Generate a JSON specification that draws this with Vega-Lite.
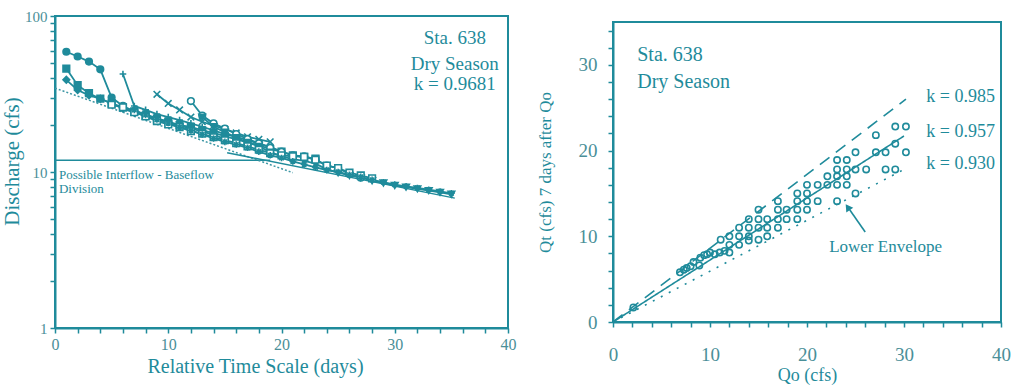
{
  "$schema": "https://vega.github.io/schema/vega-lite/v6.json",
  "background": "white",
  "padding": {"left": 0, "top": 8, "right": 5, "bottom": 0},
  "spacing": 105,
  "bounds": "flush",
  "center": true,
  "config": {
    "font": "Liberation Serif",
    "view": {"stroke": "#1f8b9b", "strokeWidth": 2},
    "axis": {
      "grid": false,
      "domainColor": "#1f8b9b",
      "domainWidth": 2,
      "tickColor": "#1f8b9b",
      "tickWidth": 1.5,
      "tickSize": 5,
      "labelColor": "#4a8f98",
      "titleColor": "#1f8b9b",
      "labelFont": "Liberation Serif",
      "titleFont": "Liberation Serif",
      "titleFontWeight": "normal"
    },
    "text": {"font": "Liberation Serif", "color": "#1f8b9b"}
  },
  "datasets": {
    "ser": [
      {"s":"A","x":1,"y":59},{"s":"A","x":2,"y":55},{"s":"A","x":3,"y":51},{"s":"A","x":4,"y":45.5},{"s":"A","x":5,"y":30},{"s":"A","x":6,"y":26.5},{"s":"A","x":7,"y":24.5},{"s":"A","x":8,"y":23.5},{"s":"A","x":9,"y":22},{"s":"A","x":10,"y":21},
      {"s":"B","x":1,"y":46},{"s":"B","x":2,"y":36},{"s":"B","x":3,"y":32},{"s":"B","x":4,"y":29.5},{"s":"B","x":5,"y":27.5},{"s":"B","x":6,"y":26},{"s":"B","x":7,"y":24.5},{"s":"B","x":8,"y":23},{"s":"B","x":9,"y":22},{"s":"B","x":10,"y":21},{"s":"B","x":11,"y":20},{"s":"B","x":12,"y":19.5},{"s":"B","x":13,"y":18.5},{"s":"B","x":14,"y":17.8},{"s":"B","x":15,"y":17},{"s":"B","x":16,"y":16.2},{"s":"B","x":17,"y":15.5},{"s":"B","x":18,"y":14.8},{"s":"B","x":19,"y":14},{"s":"B","x":20,"y":13.5},{"s":"B","x":21,"y":12.8},{"s":"B","x":22,"y":12.5},{"s":"B","x":23,"y":12.2},
      {"s":"C","x":1,"y":39},{"s":"C","x":2,"y":33.5},{"s":"C","x":3,"y":31},{"s":"C","x":4,"y":29.5},{"s":"C","x":5,"y":27.5},{"s":"C","x":6,"y":25.5},{"s":"C","x":7,"y":24},{"s":"C","x":8,"y":23},{"s":"C","x":9,"y":22},{"s":"C","x":10,"y":20.5},{"s":"C","x":11,"y":19.8},{"s":"C","x":12,"y":19},{"s":"C","x":13,"y":18.2},{"s":"C","x":14,"y":17.3},{"s":"C","x":15,"y":16.3},
      {"s":"D","x":6,"y":42.5},{"s":"D","x":7,"y":26.5},{"s":"D","x":8,"y":25},{"s":"D","x":9,"y":23.5},{"s":"D","x":10,"y":22.5},{"s":"D","x":11,"y":21.5},{"s":"D","x":12,"y":20.5},{"s":"D","x":13,"y":19.5},{"s":"D","x":14,"y":18.5},{"s":"D","x":15,"y":17.5},{"s":"D","x":16,"y":16.8},{"s":"D","x":17,"y":16},{"s":"D","x":18,"y":15.2},{"s":"D","x":19,"y":14.5},{"s":"D","x":20,"y":13.5},
      {"s":"E","x":9,"y":31.5},{"s":"E","x":10,"y":27.5},{"s":"E","x":11,"y":25},{"s":"E","x":12,"y":22.5},{"s":"E","x":13,"y":21},{"s":"E","x":14,"y":19.8},{"s":"E","x":15,"y":18.8},{"s":"E","x":16,"y":17.8},{"s":"E","x":17,"y":16.8},{"s":"E","x":18,"y":16.2},{"s":"E","x":19,"y":15.6},
      {"s":"F","x":12,"y":28.5},{"s":"F","x":13,"y":23},{"s":"F","x":14,"y":20.5},{"s":"F","x":15,"y":19},{"s":"F","x":16,"y":17.5},{"s":"F","x":17,"y":16.3},{"s":"F","x":18,"y":15.3},{"s":"F","x":19,"y":14.3},{"s":"F","x":20,"y":13.5},{"s":"F","x":21,"y":12.8},{"s":"F","x":22,"y":12.6},{"s":"F","x":23,"y":12},{"s":"F","x":24,"y":11},{"s":"F","x":25,"y":10.6},{"s":"F","x":26,"y":9.7},{"s":"F","x":27,"y":9.2},
      {"s":"G","x":13,"y":22.5},{"s":"G","x":14,"y":19.5},{"s":"G","x":15,"y":18},{"s":"G","x":16,"y":16.6},{"s":"G","x":17,"y":15.5},{"s":"G","x":18,"y":14.6},{"s":"G","x":19,"y":13.4},{"s":"G","x":20,"y":12.6},{"s":"G","x":21,"y":12.1},{"s":"G","x":22,"y":11.8},{"s":"G","x":23,"y":11.3},{"s":"G","x":24,"y":10.4},{"s":"G","x":25,"y":9.9},{"s":"G","x":26,"y":9.5},{"s":"G","x":27,"y":9.2},{"s":"G","x":28,"y":8.8},{"s":"G","x":29,"y":8.5},{"s":"G","x":30,"y":8.2},{"s":"G","x":31,"y":8.0},{"s":"G","x":32,"y":7.8},{"s":"G","x":33,"y":7.6},{"s":"G","x":34,"y":7.4},{"s":"G","x":35,"y":7.2},
      {"s":"H","x":5,"y":27},{"s":"H","x":6,"y":26},{"s":"H","x":7,"y":24.2},{"s":"H","x":8,"y":22.7},{"s":"H","x":9,"y":21.2},{"s":"H","x":10,"y":20.2},{"s":"H","x":11,"y":19.4},{"s":"H","x":12,"y":18.3},{"s":"H","x":13,"y":17.6},{"s":"H","x":14,"y":16.7},{"s":"H","x":15,"y":16},{"s":"H","x":16,"y":15.3},{"s":"H","x":17,"y":14.6},{"s":"H","x":18,"y":13.9},{"s":"H","x":19,"y":13.2},{"s":"H","x":20,"y":12.8},{"s":"H","x":21,"y":12.6},{"s":"H","x":22,"y":12.5},{"s":"H","x":23,"y":12},{"s":"H","x":24,"y":11},{"s":"H","x":25,"y":10.6},{"s":"H","x":26,"y":9.9},{"s":"H","x":27,"y":9.5},{"s":"H","x":28,"y":9.1},
      {"s":"I","x":7,"y":25},{"s":"I","x":8,"y":23.2},{"s":"I","x":9,"y":21.7},{"s":"I","x":10,"y":20.6},{"s":"I","x":11,"y":19.4},{"s":"I","x":12,"y":18.5},{"s":"I","x":13,"y":17.4},{"s":"I","x":14,"y":16.4},{"s":"I","x":15,"y":15.6},{"s":"I","x":16,"y":15},{"s":"I","x":17,"y":14.3},{"s":"I","x":18,"y":13.5},{"s":"I","x":19,"y":12.8},{"s":"I","x":20,"y":12.3},{"s":"I","x":21,"y":11.7},{"s":"I","x":22,"y":11.2},{"s":"I","x":23,"y":10.7},{"s":"I","x":24,"y":10.3},{"s":"I","x":25,"y":10},{"s":"I","x":26,"y":9.6},{"s":"I","x":27,"y":9.3},{"s":"I","x":28,"y":8.9},{"s":"I","x":29,"y":8.6},{"s":"I","x":30,"y":8.3},{"s":"I","x":31,"y":8.1},{"s":"I","x":32,"y":7.9},{"s":"I","x":33,"y":7.7},{"s":"I","x":34,"y":7.5},{"s":"I","x":35,"y":7.3}
    ],
    "envelope": [{"x":0,"y":34.5},{"x":21,"y":9.9}],
    "fit": [{"x":15.2,"y":13.3},{"x":35.3,"y":6.8}],
    "division": [{"x":0,"x2":19,"y":11.9}],
    "lefttext": [
      {"x":35.3,"y":72,"t":"Sta. 638"},
      {"x":35.3,"y":49.5,"t":"Dry Season"},
      {"x":35.3,"y":36.5,"t":"k = 0.9681"}
    ],
    "divtext": [
      {"x":0.35,"y":9.57,"t":"Possible Interflow - Baseflow"},
      {"x":0.35,"y":7.78,"t":"Division"}
    ],
    "pts": [
      {"x":2.1,"y":1.7},{"x":6.9,"y":5.8},{"x":7.3,"y":6.1},{"x":7.6,"y":6.3},{"x":8.0,"y":6.5},{"x":8.3,"y":7.0},{"x":8.9,"y":6.6},{"x":9.0,"y":7.5},{"x":9.4,"y":7.8},{"x":9.7,"y":7.9},{"x":10.0,"y":8.1},{"x":10.5,"y":7.9},{"x":11.0,"y":8.1},{"x":11.1,"y":9.6},{"x":11.5,"y":8.3},{"x":12.0,"y":8.1},{"x":12.0,"y":9.0},{"x":12.0,"y":10.0},{"x":13.0,"y":9.0},{"x":13.0,"y":10.0},{"x":13.0,"y":11.0},{"x":14.0,"y":9.5},{"x":14.0,"y":10.0},{"x":14.0,"y":11.0},{"x":14.0,"y":12.0},{"x":15.0,"y":9.6},{"x":15.0,"y":11.0},{"x":15.0,"y":12.0},{"x":15.0,"y":13.1},{"x":15.9,"y":10.0},{"x":15.9,"y":11.0},{"x":15.9,"y":12.0},{"x":17.0,"y":11.0},{"x":17.0,"y":12.0},{"x":17.0,"y":13.1},{"x":17.0,"y":14.1},{"x":17.9,"y":12.0},{"x":17.9,"y":13.1},{"x":19.0,"y":12.0},{"x":19.0,"y":13.1},{"x":19.0,"y":14.1},{"x":19.0,"y":15.0},{"x":20.0,"y":13.1},{"x":20.0,"y":14.1},{"x":20.0,"y":15.0},{"x":20.0,"y":16.0},{"x":21.1,"y":14.1},{"x":21.1,"y":16.0},{"x":22.1,"y":16.0},{"x":22.1,"y":17.0},{"x":23.1,"y":14.1},{"x":23.1,"y":16.0},{"x":23.1,"y":17.0},{"x":23.1,"y":17.8},{"x":23.1,"y":18.9},{"x":24.1,"y":16.0},{"x":24.1,"y":17.0},{"x":24.1,"y":17.8},{"x":24.1,"y":18.9},{"x":25.0,"y":15.0},{"x":25.0,"y":17.8},{"x":25.0,"y":19.8},{"x":26.1,"y":17.8},{"x":27.1,"y":19.8},{"x":27.1,"y":21.8},{"x":28.1,"y":17.8},{"x":28.1,"y":19.8},{"x":29.1,"y":17.8},{"x":29.1,"y":20.8},{"x":29.1,"y":22.8},{"x":30.2,"y":22.8},{"x":30.2,"y":19.8}
    ],
    "klines": [
      {"k":"0.985","x":0,"y":0},{"k":"0.985","x":30.2,"y":26},
      {"k":"0.957","x":0,"y":0},{"k":"0.957","x":30,"y":21.7},
      {"k":"0.930","x":0,"y":0},{"k":"0.930","x":30,"y":17.8}
    ],
    "righttext": [
      {"x":2.5,"y":31.1,"t":"Sta. 638"},
      {"x":2.5,"y":28.0,"t":"Dry Season"}
    ],
    "ktext": [
      {"x":32.3,"y":26.3,"t":"k = 0.985"},
      {"x":32.3,"y":22.2,"t":"k = 0.957"},
      {"x":32.3,"y":18.4,"t":"k = 0.930"}
    ],
    "lowtext": [{"x":28.1,"y":8.7,"t":"Lower Envelope"}],
    "arrow": [{"x":26,"y":10.5,"x2":24.4,"y2":13.1}],
    "arrowhead": [{"x":24.2,"y":13.4}]
  },
  "hconcat": [
    {
      "width": 453,
      "height": 312,
      "encoding": {
        "x": {"field": "x", "type": "quantitative",
          "scale": {"domain": [0, 40], "nice": false},
          "axis": {"title": "Relative Time Scale (days)", "values": [0,2,4,6,8,10,12,14,16,18,20,22,24,26,28,30,32,34,36,38,40],
            "labelExpr": "datum.value % 10 == 0 ? datum.label : ''", "labelFontSize": 16, "titleFontSize": 20,
            "labelPadding": 3, "titlePadding": 4, "titleX": 200, "labelFlush": false}},
        "y": {"field": "y", "type": "quantitative",
          "scale": {"type": "log", "domain": [1, 100], "nice": false},
          "axis": {"title": "Discharge (cfs)", "values": [1,2,3,4,5,6,7,8,9,10,20,30,40,50,60,70,80,90,100],
            "format": "d", "labelExpr": "datum.value == 1 || datum.value == 10 || datum.value == 100 ? datum.label : ''",
            "labelFontSize": 15, "titleFontSize": 21, "labelPadding": 3, "titlePadding": 2, "titleY": 145, "labelFlush": false}}
      },
      "layer": [
        {"data": {"name": "division"}, "mark": {"type": "rule", "color": "#1f8b9b", "strokeWidth": 1.5},
          "encoding": {"x2": {"field": "x2"}}},
        {"data": {"name": "envelope"}, "mark": {"type": "line", "color": "#3d97a5", "strokeWidth": 1.5, "strokeDash": [2, 2]}, "encoding": {}},
        {"data": {"name": "fit"}, "mark": {"type": "line", "color": "#1f8b9b", "strokeWidth": 1.5}, "encoding": {}},
        {"data": {"name": "ser"}, "mark": {"type": "line", "color": "#1f8b9b", "strokeWidth": 1.8},
          "encoding": {"detail": {"field": "s"}}},
        {"data": {"name": "ser"}, "mark": {"type": "point", "filled": true, "stroke": "#1f8b9b", "strokeWidth": 1.6, "opacity": 1, "size": 44},
          "encoding": {
            "shape": {"field": "s", "type": "nominal", "legend": null,
              "scale": {"domain": ["A","B","C","D","E","F","G","H","I"],
                "range": ["circle","square","diamond","M-1,0L1,0M0,-1L0,1","M-1,-1L1,1M-1,1L1,-1","circle","triangle-down","square","M-1,0L1,0M0,-1L0,1M-0.7,-0.7L0.7,0.7M-0.7,0.7L0.7,-0.7"]}},
            "fill": {"field": "s", "type": "nominal", "legend": null,
              "scale": {"domain": ["A","B","C","D","E","F","G","H","I"],
                "range": ["#1f8b9b","#1f8b9b","#1f8b9b","#1f8b9b","#1f8b9b","white","#1f8b9b","white","#1f8b9b"]}}
          }},
        {"data": {"name": "lefttext"}, "mark": {"type": "text", "fontSize": 19, "align": "center", "baseline": "middle"},
          "encoding": {"text": {"field": "t"}}},
        {"data": {"name": "divtext"}, "mark": {"type": "text", "fontSize": 13, "align": "left", "baseline": "middle"},
          "encoding": {"text": {"field": "t"}}}
      ]
    },
    {
      "width": 388,
      "height": 300,
      "encoding": {
        "x": {"field": "x", "type": "quantitative",
          "scale": {"domain": [0, 40], "nice": false},
          "axis": {"title": "Qo (cfs)", "values": [0,2,4,6,8,10,12,14,16,18,20,22,24,26,28,30,32,34,36,38,40],
            "labelExpr": "datum.value % 10 == 0 ? datum.label : ''", "labelFontSize": 19, "titleFontSize": 18,
            "labelPadding": 18, "titlePadding": 2, "labelFlush": false}},
        "y": {"field": "y", "type": "quantitative",
          "scale": {"domain": [0, 35], "nice": false},
          "axis": {"title": "Qt (cfs) 7 days after Qo", "values": [0,2,4,6,8,10,12,14,16,18,20,22,24,26,28,30,32,34],
            "labelExpr": "datum.value % 10 == 0 ? datum.label : ''", "labelFontSize": 19, "titleFontSize": 17,
            "labelPadding": 11, "titlePadding": 24, "labelFlush": false}}
      },
      "layer": [
        {"data": {"name": "klines"}, "mark": {"type": "line", "color": "#1f8b9b", "strokeWidth": 1.6},
          "encoding": {"detail": {"field": "k"},
            "strokeDash": {"field": "k", "type": "nominal", "legend": null,
              "scale": {"domain": ["0.985","0.957","0.930"], "range": [[12, 8], [1, 0], [2, 7]]}}}},
        {"data": {"name": "pts"}, "mark": {"type": "point", "filled": false, "color": "#1f8b9b", "strokeWidth": 1.6, "size": 40, "opacity": 1}},
        {"data": {"name": "arrow"}, "mark": {"type": "rule", "color": "#1f8b9b", "strokeWidth": 1.6},
          "encoding": {"x2": {"field": "x2"}, "y2": {"field": "y2"}}},
        {"data": {"name": "arrowhead"}, "mark": {"type": "point", "shape": "triangle-up", "angle": 326, "filled": true, "color": "#1f8b9b", "size": 70, "opacity": 1}},
        {"data": {"name": "righttext"}, "mark": {"type": "text", "fontSize": 20, "align": "left", "baseline": "middle"},
          "encoding": {"text": {"field": "t"}}},
        {"data": {"name": "ktext"}, "mark": {"type": "text", "fontSize": 18, "align": "left", "baseline": "middle"},
          "encoding": {"text": {"field": "t"}}},
        {"data": {"name": "lowtext"}, "mark": {"type": "text", "fontSize": 17, "align": "center", "baseline": "middle"},
          "encoding": {"text": {"field": "t"}}}
      ]
    }
  ]
}
